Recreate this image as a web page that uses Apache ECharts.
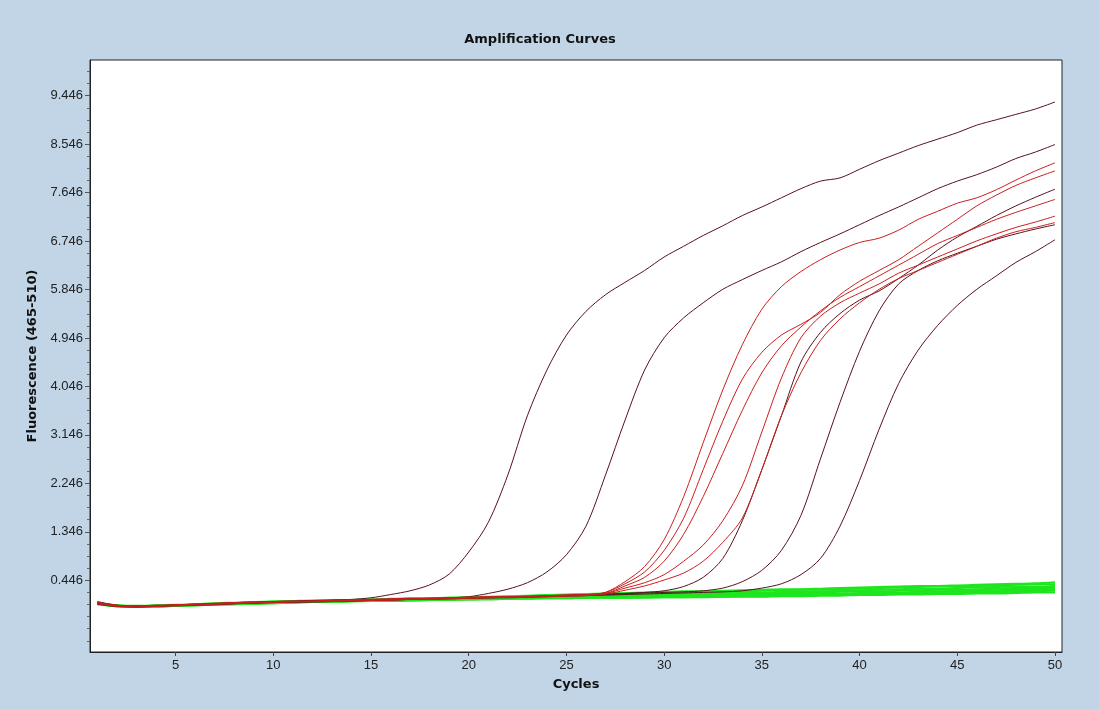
<!DOCTYPE html>
<html>
<head>
    <meta charset="utf-8">
    <title>Amplification Curves</title>
    <script src="https://cdn.jsdelivr.net/npm/echarts/dist/echarts.min.js"></script>
    <style>
        html, body { margin: 0; padding: 0; background: #c1d5e7; }
    </style>
</head>
<body>
    <div id="main" style="width: 1099px;height:709px;"></div>
    <script type="text/javascript">

        // cycles 1..50
        var cycles = [1, 2, 3, 4, 5, 6, 7, 8, 9, 10, 11, 12, 13, 14, 15, 16, 17, 18, 19, 20,
            21, 22, 23, 24, 25, 26, 27, 28, 29, 30, 31, 32, 33, 34, 35, 36, 37, 38, 39, 40,
            41, 42, 43, 44, 45, 46, 47, 48, 49, 50];

        var xTicks = [5, 10, 15, 20, 25, 30, 35, 40, 45, 50];
        var yTicks = [0.446, 1.346, 2.246, 3.146, 4.046, 4.946, 5.846, 6.746, 7.646, 8.546, 9.446];
        // small ticks between the labelled ones
        var yMinorTicks = [-0.679, -0.454, -0.229, -0.004, 0.221, 0.671, 0.896, 1.121, 1.571, 1.796, 2.021,
            2.471, 2.696, 2.921, 3.371, 3.596, 3.821, 4.271, 4.496, 4.721, 5.171, 5.396, 5.621,
            6.071, 6.296, 6.521, 6.971, 7.196, 7.421, 7.871, 8.096, 8.321, 8.771, 8.996, 9.221,
            9.671, 9.896];

        // positive samples, dark lines
        var darkA = [0.05, -0.02, -0.04, -0.03, -0.01, 0.00, 0.01, 0.03, 0.04, 0.05,
            0.06, 0.07, 0.08, 0.09, 0.12, 0.18, 0.25, 0.36, 0.56, 0.97,
            1.52, 2.4, 3.5, 4.35, 5.0, 5.44, 5.75, 5.98, 6.2, 6.45,
            6.65, 6.85, 7.03, 7.22, 7.38, 7.55, 7.72, 7.86, 7.92, 8.08,
            8.24, 8.38, 8.52, 8.64, 8.76, 8.9, 9.0, 9.1, 9.2, 9.33];
        var darkB = [0.03, -0.03, -0.05, -0.04, -0.02, -0.01, 0.01, 0.02, 0.03, 0.05,
            0.05, 0.06, 0.07, 0.07, 0.08, 0.09, 0.10, 0.11, 0.12, 0.14,
            0.2, 0.28, 0.4, 0.6, 0.92, 1.45, 2.4, 3.42, 4.35, 4.95,
            5.32, 5.6, 5.85, 6.03, 6.2, 6.36, 6.55, 6.72, 6.88, 7.05,
            7.22, 7.38, 7.55, 7.72, 7.86, 7.98, 8.12, 8.28, 8.4, 8.54];
        var darkC = [0.01, -0.04, -0.04, -0.03, -0.02, 0.00, 0.00, 0.01, 0.03, 0.04,
            0.04, 0.05, 0.06, 0.06, 0.07, 0.08, 0.09, 0.10, 0.11, 0.11,
            0.12, 0.13, 0.14, 0.15, 0.16, 0.17, 0.18, 0.2, 0.22, 0.25,
            0.33, 0.5, 0.85, 1.55, 2.5, 3.5, 4.5, 5.05, 5.4, 5.65,
            5.82, 6.05, 6.3, 6.58, 6.82, 7.02, 7.22, 7.4, 7.56, 7.71];
        var darkD = [0.03, -0.02, -0.03, -0.02, -0.02, -0.01, 0.01, 0.02, 0.02, 0.04,
            0.05, 0.06, 0.06, 0.07, 0.08, 0.08, 0.09, 0.10, 0.11, 0.12,
            0.13, 0.14, 0.14, 0.15, 0.17, 0.18, 0.19, 0.2, 0.21, 0.22,
            0.23, 0.25, 0.3, 0.42, 0.63, 1.0, 1.65, 2.7, 3.75, 4.7,
            5.45, 5.95, 6.2, 6.38, 6.52, 6.65, 6.78, 6.88, 6.97, 7.05];
        var darkE = [0.00, -0.04, -0.05, -0.04, -0.03, -0.02, -0.01, 0.01, 0.02, 0.03,
            0.04, 0.04, 0.05, 0.06, 0.07, 0.08, 0.09, 0.09, 0.10, 0.11,
            0.12, 0.12, 0.13, 0.14, 0.15, 0.16, 0.17, 0.18, 0.19, 0.2,
            0.21, 0.22, 0.23, 0.25, 0.3, 0.38, 0.55, 0.85, 1.45, 2.3,
            3.25, 4.1, 4.72, 5.18, 5.55, 5.85, 6.1, 6.35, 6.55, 6.77];

        // positive samples, red lines
        var red1 = [0.02, -0.03, -0.04, -0.03, -0.02, -0.01, 0.00, 0.02, 0.03, 0.04,
            0.05, 0.05, 0.06, 0.07, 0.08, 0.09, 0.10, 0.10, 0.11, 0.12,
            0.13, 0.13, 0.14, 0.15, 0.16, 0.17, 0.22, 0.42, 0.7, 1.2,
            2.0, 3.0, 3.98, 4.82, 5.48, 5.9, 6.18, 6.4, 6.58, 6.72,
            6.8, 6.95, 7.15, 7.3, 7.45, 7.55, 7.7, 7.88, 8.05, 8.2];
        var red2 = [0.04, -0.02, -0.03, -0.02, -0.01, 0.00, 0.01, 0.03, 0.04, 0.05,
            0.06, 0.06, 0.07, 0.08, 0.09, 0.10, 0.11, 0.11, 0.12, 0.13,
            0.14, 0.14, 0.15, 0.16, 0.17, 0.18, 0.22, 0.38, 0.6, 1.0,
            1.6, 2.5, 3.4, 4.18, 4.68, 5.0, 5.2, 5.42, 5.75, 6.0,
            6.2, 6.4, 6.65, 6.9, 7.15, 7.4, 7.6, 7.78, 7.92, 8.05];
        var red3 = [0.01, -0.04, -0.05, -0.03, -0.03, -0.01, 0.00, 0.01, 0.02, 0.03,
            0.04, 0.05, 0.05, 0.06, 0.07, 0.08, 0.09, 0.09, 0.10, 0.11,
            0.12, 0.13, 0.13, 0.14, 0.15, 0.16, 0.2, 0.34, 0.5, 0.8,
            1.3, 2.0, 2.8, 3.6, 4.3, 4.8, 5.15, 5.45, 5.7, 5.9,
            6.1, 6.3, 6.5, 6.7, 6.85, 7.0, 7.15, 7.28, 7.4, 7.52];
        var red4 = [0.03, -0.03, -0.03, -0.03, -0.01, 0.00, 0.02, 0.03, 0.04, 0.05,
            0.05, 0.06, 0.07, 0.08, 0.09, 0.10, 0.10, 0.11, 0.12, 0.13,
            0.13, 0.14, 0.15, 0.16, 0.17, 0.18, 0.2, 0.3, 0.4, 0.55,
            0.8, 1.1, 1.55, 2.2, 3.2, 4.2, 4.95, 5.35, 5.6, 5.78,
            5.95, 6.15, 6.3, 6.45, 6.6, 6.75, 6.88, 7.0, 7.1, 7.21];
        var red5 = [0.02, -0.02, -0.04, -0.04, -0.02, -0.01, 0.01, 0.02, 0.03, 0.04,
            0.05, 0.05, 0.06, 0.07, 0.08, 0.08, 0.09, 0.10, 0.11, 0.12,
            0.12, 0.13, 0.14, 0.15, 0.16, 0.17, 0.19, 0.26, 0.34, 0.45,
            0.58, 0.8, 1.15, 1.6, 2.5, 3.5, 4.3, 4.9, 5.3, 5.6,
            5.85, 6.05, 6.2, 6.35, 6.5, 6.65, 6.8, 6.92, 7.0, 7.09];

        // negative samples, green lines
        var green1 = [0.02, -0.02, -0.04, -0.03, -0.02, 0.00, 0.01, 0.02, 0.03, 0.05,
            0.05, 0.06, 0.07, 0.08, 0.09, 0.09, 0.10, 0.11, 0.12, 0.13,
            0.14, 0.15, 0.16, 0.17, 0.18, 0.19, 0.2, 0.21, 0.22, 0.23,
            0.24, 0.24, 0.25, 0.26, 0.27, 0.28, 0.28, 0.29, 0.3, 0.31,
            0.32, 0.33, 0.34, 0.34, 0.35, 0.36, 0.37, 0.38, 0.39, 0.41];
        var green2 = [0.01, -0.03, -0.04, -0.03, -0.02, -0.01, 0.01, 0.02, 0.03, 0.04,
            0.04, 0.05, 0.06, 0.07, 0.08, 0.09, 0.10, 0.10, 0.11, 0.12,
            0.13, 0.14, 0.15, 0.16, 0.17, 0.18, 0.19, 0.2, 0.21, 0.21,
            0.22, 0.23, 0.24, 0.24, 0.25, 0.26, 0.27, 0.27, 0.28, 0.29,
            0.3, 0.31, 0.32, 0.33, 0.33, 0.34, 0.35, 0.36, 0.37, 0.37];
        var green3 = [0.00, -0.03, -0.05, -0.04, -0.02, -0.01, 0.00, 0.01, 0.02, 0.03,
            0.04, 0.05, 0.05, 0.06, 0.07, 0.08, 0.08, 0.09, 0.10, 0.11,
            0.11, 0.12, 0.13, 0.14, 0.15, 0.15, 0.16, 0.17, 0.18, 0.18,
            0.19, 0.2, 0.21, 0.21, 0.22, 0.23, 0.24, 0.24, 0.25, 0.26,
            0.27, 0.28, 0.29, 0.29, 0.3, 0.31, 0.32, 0.33, 0.33, 0.34];
        var green4 = [0.03, -0.02, -0.03, -0.02, -0.01, 0.00, 0.02, 0.03, 0.04, 0.05,
            0.06, 0.07, 0.07, 0.08, 0.09, 0.10, 0.11, 0.11, 0.12, 0.12,
            0.13, 0.13, 0.14, 0.14, 0.15, 0.15, 0.16, 0.16, 0.17, 0.17,
            0.18, 0.18, 0.19, 0.19, 0.2, 0.21, 0.21, 0.22, 0.23, 0.24,
            0.24, 0.25, 0.26, 0.27, 0.27, 0.28, 0.29, 0.3, 0.3, 0.31];
        var green5 = [0.01, -0.04, -0.05, -0.04, -0.03, -0.02, -0.01, 0.00, 0.01, 0.02,
            0.03, 0.04, 0.05, 0.06, 0.06, 0.07, 0.08, 0.08, 0.09, 0.10,
            0.10, 0.11, 0.11, 0.12, 0.12, 0.13, 0.13, 0.14, 0.14, 0.15,
            0.15, 0.16, 0.16, 0.17, 0.18, 0.18, 0.19, 0.2, 0.2, 0.21,
            0.22, 0.22, 0.23, 0.24, 0.25, 0.25, 0.26, 0.27, 0.28, 0.29];
        var green6 = [0.02, -0.03, -0.04, -0.03, -0.02, -0.01, 0.00, 0.02, 0.03, 0.04,
            0.05, 0.05, 0.06, 0.07, 0.07, 0.08, 0.09, 0.10, 0.10, 0.11,
            0.11, 0.12, 0.12, 0.13, 0.13, 0.13, 0.14, 0.14, 0.14, 0.15,
            0.15, 0.15, 0.16, 0.16, 0.17, 0.17, 0.18, 0.18, 0.19, 0.2,
            0.2, 0.21, 0.21, 0.22, 0.23, 0.23, 0.24, 0.25, 0.26, 0.27];
        var green7 = [0.00, -0.04, -0.05, -0.05, -0.03, -0.02, -0.01, 0.00, 0.01, 0.02,
            0.03, 0.04, 0.04, 0.05, 0.06, 0.06, 0.07, 0.08, 0.08, 0.09,
            0.09, 0.10, 0.10, 0.11, 0.11, 0.12, 0.12, 0.12, 0.13, 0.13,
            0.13, 0.14, 0.14, 0.15, 0.15, 0.16, 0.16, 0.17, 0.17, 0.18,
            0.19, 0.19, 0.2, 0.2, 0.21, 0.22, 0.22, 0.23, 0.24, 0.25];
        var green8 = [0.01, -0.03, -0.04, -0.04, -0.03, -0.02, 0.00, 0.01, 0.02, 0.03,
            0.04, 0.04, 0.05, 0.06, 0.06, 0.07, 0.07, 0.08, 0.09, 0.09,
            0.10, 0.10, 0.11, 0.11, 0.11, 0.12, 0.12, 0.12, 0.12, 0.13,
            0.13, 0.13, 0.14, 0.14, 0.14, 0.15, 0.15, 0.16, 0.16, 0.17,
            0.17, 0.18, 0.18, 0.19, 0.19, 0.2, 0.2, 0.21, 0.22, 0.22];

        var greenSet = [green1, green2, green3, green4, green5, green6, green7, green8];
        var redSet = [red1, red2, red3, red4, red5];
        var darkSet = [darkA, darkB, darkC, darkD, darkE];

        var DARK = '#561220';
        var RED = '#cc1e1e';
        var GREEN = '#1ee61e';

        function pairs(values) {
            return cycles.map(function (c, i) { return [c, values[i]]; });
        }

        function makeSeries(list, color, width, prefix) {
            return list.map(function (values, i) {
                return {
                    name: prefix + (i + 1),
                    type: 'line',
                    data: pairs(values),
                    showSymbol: false,
                    symbol: 'none',
                    smooth: 0.3,
                    silent: true,
                    lineStyle: { color: color, width: width },
                    z: 2
                };
            });
        }

        var series = [].concat(
            makeSeries(greenSet, GREEN, 2, 'neg'),
            makeSeries(darkSet, DARK, 1, 'pos'),
            makeSeries(redSet, RED, 1, 'posR')
        );

        var myChart = echarts.init(document.getElementById('main'));

        var option = {
            backgroundColor: '#c1d5e7',
            animation: false,
            graphic: [{
                type: 'text',
                x: 540,
                y: 40,
                style: {
                    text: 'Amplification Curves',
                    fill: '#111',
                    font: 'bold 13px "DejaVu Sans"',
                    textAlign: 'center',
                    textVerticalAlign: 'middle'
                }
            }],
            grid: {
                left: 90,
                top: 60,
                right: 37,
                bottom: 57,
                show: true,
                backgroundColor: '#ffffff',
                borderColor: '#222',
                borderWidth: 1
            },
            xAxis: {
                type: 'value',
                min: 0.62,
                max: 50.36,
                name: 'Cycles',
                nameLocation: 'middle',
                nameGap: 26,
                nameTextStyle: {
                    fontFamily: 'DejaVu Sans',
                    fontWeight: 'bold',
                    fontSize: 13,
                    color: '#111'
                },
                axisLine: { show: true, onZero: false, lineStyle: { color: '#222' } },
                axisTick: {
                    show: true,
                    customValues: xTicks,
                    length: 4,
                    lineStyle: { color: '#444' }
                },
                axisLabel: {
                    customValues: xTicks,
                    color: '#222',
                    fontFamily: 'Liberation Sans',
                    fontSize: 13,
                    margin: 7
                },
                splitLine: { show: false }
            },
            yAxis: [{
                type: 'value',
                min: -0.887,
                max: 10.11,
                name: 'Fluorescence (465-510)',
                nameLocation: 'middle',
                nameGap: 51,
                nameTextStyle: {
                    fontFamily: 'DejaVu Sans',
                    fontWeight: 'bold',
                    fontSize: 13,
                    color: '#111'
                },
                axisLine: { show: true, onZero: false, lineStyle: { color: '#222' } },
                axisTick: {
                    show: true,
                    customValues: yTicks,
                    length: 5,
                    lineStyle: { color: '#555' }
                },
                axisLabel: {
                    customValues: yTicks,
                    color: '#222',
                    fontFamily: 'Liberation Sans',
                    fontSize: 13,
                    margin: 7,
                    formatter: function (v) { return v.toFixed(3); }
                },
                splitLine: { show: false }
            }, {
                type: 'value',
                min: -0.887,
                max: 10.11,
                position: 'left',
                axisLine: { show: false, onZero: false },
                axisTick: {
                    show: true,
                    customValues: yMinorTicks,
                    length: 3,
                    lineStyle: { color: '#666' }
                },
                axisLabel: { show: false },
                splitLine: { show: false }
            }],
            series: series
        };

        myChart.setOption(option);

    </script>
</body>
</html>
